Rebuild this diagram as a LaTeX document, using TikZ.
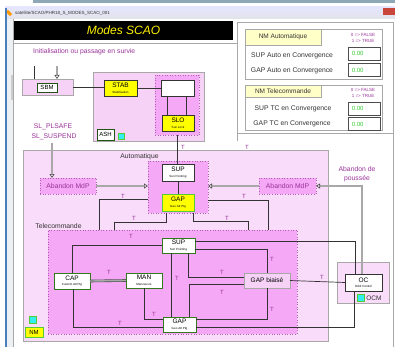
\documentclass[tikz,border=0pt]{standalone}
\usepackage{fontspec}
\setmainfont{Liberation Sans}
\usetikzlibrary{arrows.meta,calc}

\newcommand\setfs[1]{\fontsize{#1}{#1}\selectfont}
\newcommand\twolab[2]{{\setfs{6.5}#1}\\[-1pt]{\setfs{3}#2}}

\definecolor{pinkL}{HTML}{F9DCF9}
\definecolor{pinkS}{HTML}{F6D2F6}
\definecolor{pinkM}{HTML}{F5A8F5}
\definecolor{purp}{HTML}{993399}
\definecolor{dotc}{HTML}{B060B0}
\definecolor{dk}{HTML}{333333}
\definecolor{frm}{HTML}{A8A8A8}
\definecolor{yel}{HTML}{FFFF00}
\definecolor{grn}{HTML}{55CC33}
\definecolor{cyanb}{HTML}{33EEEE}
\definecolor{valg}{HTML}{33CC33}
\definecolor{hdr}{HTML}{FFFFC8}
\definecolor{winblue}{HTML}{4A7EC0}
\definecolor{side}{HTML}{EDF0F3}
\definecolor{topbar}{HTML}{8FA8B8}
\definecolor{closer}{HTML}{C9473A}
\definecolor{fatin}{HTML}{A8A8A8}
\definecolor{fatout}{HTML}{505050}

\tikzset{
  box/.style={draw=dk, line width=0.6pt, rectangle, inner sep=0pt, outer sep=0pt,
    fill=white, align=center, font=\setfs{6.5}},
  ybox/.style={box, fill=yel},
  gbox/.style={box, draw=grn!60!black},
  grp/.style={draw=frm, line width=0.5pt, fill=pinkL, rectangle, inner sep=0pt, outer sep=0pt},
  dotgrp/.style={draw=dotc, dotted, line width=0.6pt, fill=pinkM, rectangle,
    inner sep=0pt, outer sep=0pt},
  wire/.style={draw=dk, line width=0.7pt},
  fat/.style={draw=fatout, line width=0.6pt, double=fatin, double distance=1.4pt},
  tipo/.style={-{Triangle[open,length=4pt,width=5pt]}},
  tl/.style={text=purp, font=\setfs{6}, inner sep=0pt},
  plab/.style={text=purp, font=\setfs{6.8}, inner sep=0pt},
  dlab/.style={text=dk, font=\setfs{6.8}, inner sep=0pt},
  cyansq/.style={draw=grn, line width=0.8pt, fill=cyanb, inner sep=0pt, outer sep=0pt,
    minimum width=6pt, minimum height=6pt},
  valbox/.style={draw=black!70, line width=0.9pt, fill=white, inner sep=0pt,
    minimum width=32pt, minimum height=13pt},
  valtxt/.style={text=valg, font=\setfs{6}, inner sep=0pt, anchor=west},
  tfl/.style={text=purp, font=\setfs{4.5}, inner sep=0pt},
}

\begin{document}
\begin{tikzpicture}[x=1pt,y=-1pt]
\useasboundingbox (0,0) rectangle (395,347);

% window chrome
\fill[white] (0,0) rectangle (395,347);
\fill[topbar] (33,0) rectangle (395,3);
\shade[top color=white!90!blue, bottom color=blue!10!gray!20] (5,7) rectangle (395,19);
\fill[closer] (383,8) rectangle (395,15);
\fill[orange!80!yellow, rotate around={45:(9,13)}] (7.5,10) rectangle (10.5,16);
\node[anchor=west, font=\setfs{4.5}, text=dk, inner sep=0pt] (wtitle) at (15,13.5)
  {satellite/SCAO/PHR18\_S\_MODES\_SCAO\_001};
\fill[side] (7,19) rectangle (13,347);
\fill[black!20] (11,75) rectangle (13,100);
\draw[winblue, line width=1.5pt] (6,8) -- (6,347);
\draw[frm] (13,19) -- (13,347);

% panel frames
\draw[frm] (14,43) -- (237,43) -- (237,141);
\draw[frm] (237,22) rectangle (393,133);
\draw[frm] (393,133) -- (393,347);

% title
\node[fill=black, minimum width=219pt, minimum height=19pt, inner sep=0pt,
  text=yellow, font=\setfs{12}\itshape] (title) at (123.5,30.5) {Modes SCAO};

% right panel: flags
\node[grp, fill=white, minimum width=137pt, minimum height=50pt] (nma) at (313.5,54) {};
\node[grp, fill=hdr, minimum width=76pt, minimum height=16pt, font=\setfs{6.5}, text=dk]
  (nmah) at (283,37) {NM Automatique};
\node[tfl] (nmaf) at (363,35) {0 => FALSE};
\node[tfl] (nmat) at (363,41) {1 => TRUE};
\node[dlab] (supal) at (292,56) {SUP Auto en Convergence};
\node[dlab] (gapal) at (292,71) {GAP Auto en Convergence};
\node[valbox] (supav) at (364,53.5) {};
\node[valbox] (gapav) at (364,70) {};
\node[valtxt] at ([xshift=4pt]supav.west) {0.00};
\node[valtxt] at ([xshift=4pt]gapav.west) {0.00};

\node[grp, fill=white, minimum width=137pt, minimum height=45pt] (nmt) at (313.5,107.5) {};
\node[grp, fill=hdr, minimum width=76pt, minimum height=12pt, font=\setfs{6.5}, text=dk]
  (nmth) at (283,91) {NM Telecommande};
\node[tfl] (nmtf) at (363,90) {0 => FALSE};
\node[tfl] (nmtt) at (363,96) {1 => TRUE};
\node[dlab] (suptl) at (293,109) {SUP TC en Convergence};
\node[dlab] (gaptl) at (292,124) {GAP TC en Convergence};
\node[valbox] (suptv) at (364,108.5) {};
\node[valbox] (gaptv) at (364,124) {};
\node[valtxt] at ([xshift=4pt]suptv.west) {0.00};
\node[valtxt] at ([xshift=4pt]gaptv.west) {0.00};

% initialisation / SBM
\node[plab, anchor=west] (init) at (33,52) {Initialisation ou passage en survie};
\node[grp, fill=pinkS, minimum width=51pt, minimum height=16pt] (sbmg) at (47.5,87) {};
\node[box, draw=grn!40!black, minimum width=20pt, minimum height=9pt, font=\setfs{6}] (sbm) at (47,87.5) {SBM};
\coordinate (inA) at (34,66);
\coordinate (inB) at (57,66);
\draw[wire] (inA) -- (inA |- sbmg.north);
\draw[fat, tipo] (inB) -- (inB |- sbmg.north);

% STAB / SLO group
\node[grp, fill=pinkS, minimum width=111pt, minimum height=69pt] (stabg) at (148.5,106.5) {};
\node[ybox, minimum width=33pt, minimum height=16pt] (stab) at (120.5,88) {\twolab{STAB}{Stabilisation}};
\node[dotgrp, minimum width=44pt, minimum height=60pt] (slog) at (177,105) {};
\node[box, minimum width=33pt, minimum height=16pt] (wb) at (177.5,88) {};
\node[ybox, minimum width=32pt, minimum height=16pt] (slo) at (178,123) {\twolab{SLO}{Sun Lock}};
\node[box, draw=grn!40!black, minimum width=17pt, minimum height=11pt, font=\setfs{6}] (ash) at (105.5,134.5) {ASH};
\node[cyansq] (ashsq) at (121,136) {};
\draw[wire] (sbmg.east) -- (sbmg.east -| stab.west);
\draw[wire] (stab.east) -- (stab.east -| wb.west);
\draw[wire] ([xshift=-10.5pt]wb.south) -- ([xshift=-10.5pt]wb.south |- slo.north);
\draw[wire] ([xshift=8.5pt]wb.south) -- ([xshift=8.5pt]wb.south |- slo.north);

% SL labels
\node[plab] (slp) at (53,127) {SL\_PLSAFE};
\node[plab] (sls) at (54,137) {SL\_SUSPEND};
\coordinate (slarr) at (52,143);

% Automatique
\node[grp, minimum width=305pt, minimum height=191pt] (auto) at (175.5,245.5) {};
\node[dlab] (autol) at (139.5,157) {Automatique};
\node[dotgrp, minimum width=56pt, minimum height=16pt, text=purp, font=\setfs{6.8}] (abl) at (68,186) {Abandon MdP};
\node[dotgrp, minimum width=57pt, minimum height=16pt, text=purp, font=\setfs{6.8}] (abr) at (287.5,186) {Abandon MdP};
\node[dotgrp, minimum width=60pt, minimum height=52pt] (autoin) at (178,187) {};
\node[box, minimum width=32pt, minimum height=17pt] (supa) at (178,172.5) {\twolab{SUP}{Sun Pointing}};
\node[ybox, draw=grn, line width=0.9pt, minimum width=32pt, minimum height=17pt] (gapa) at (178,202.5) {\twolab{GAP}{Geo Att Ptg}};
\node[plab] (abdp1) at (357,169) {Abandon de};
\node[plab] (abdp2) at (357,179) {poussée};

% Telecommande
\node[dlab] (telel) at (58.5,226) {Telecommande};
\node[dotgrp, minimum width=249pt, minimum height=104pt] (tele) at (172.5,282) {};
\node[gbox, minimum width=33pt, minimum height=15pt] (supt) at (178.5,245.5) {\twolab{SUP}{Sun Pointing}};
\node[gbox, minimum width=36pt, minimum height=16pt] (cap) at (72,281) {\twolab{CAP}{Custom Att Ptg}};
\node[gbox, minimum width=36pt, minimum height=15pt] (man) at (144,280.5) {\twolab{MAN}{Manoeuvre}};
\node[gbox, minimum width=33pt, minimum height=15pt] (gapt) at (179.5,324.5) {\twolab{GAP}{Geo Att Ptg}};
\node[box, draw=frm, fill=pinkS, minimum width=46pt, minimum height=15pt, font=\setfs{6.5}] (gapb) at (267,280.5) {GAP biaisé};

% OC
\node[grp, minimum width=52pt, minimum height=41pt] (ocg) at (363,282.5) {};
\node[box, minimum width=37pt, minimum height=17pt] (oc) at (363.5,282.5) {\twolab{OC}{Orbit Control}};
\node[cyansq, minimum width=7pt, minimum height=7pt] (ocsq) at (360.5,297.5) {};
\node[dlab, font=\setfs{6.5}] (ocm) at (374,298.5) {OCM};

% NM
\node[cyansq, minimum width=7pt, minimum height=7pt] (nmsq) at (32.5,319.5) {};
\node[ybox, draw=grn, line width=0.9pt, minimum width=18pt, minimum height=10pt, font=\setfs{6}] (nm) at (34,332) {NM};

% connectors: thick arrows
\draw[fat, tipo] (slarr) -- (slarr |- abl.north);
\draw[fat, tipo] (abl.east) -- (abl.east -| autoin.west);
\draw[fat, tipo] (abr.west) -- (abr.west -| autoin.east);
\draw[fat, tipo] ([xshift=-1.5pt]oc.north) |- (abr.east);

% connectors: automatique
\draw[wire] (slog.south) -- (slog.south |- supa.north);
\draw[wire] (supa.south) -- (gapa.north);
\draw[wire] (autoin.west |- 0,199) -| (99,0 |- tele.north);
\draw[wire] (166,0 |- autoin.south) |- (114,222) -- (114,0 |- tele.north);
\draw[wire] (autoin.east |- 0,200) -| (268,0 |- tele.north);
\draw[wire] (193,0 |- autoin.south) |- (248,221) -- (248,0 |- tele.north);

% connectors: telecommande
\draw[wire] (supt.west) -| (cap.north);
\draw[fat] (cap.east) -- (man.west);
\draw[wire] ([xshift=1pt]cap.south) |- ([yshift=-2.5pt]gapt.west);
\draw[wire] (man.south) |- ([yshift=5.5pt]gapt.west);
\draw[wire] ([xshift=-7.5pt]supt.south) -- ([xshift=-7.5pt]supt.south |- gapt.north);
\draw[wire] ([xshift=9.5pt]supt.south) |- ([yshift=3.5pt]gapb.west);
\draw[wire] ([xshift=9.5pt]gapt.north) |- ([yshift=-3.5pt]gapb.west);
\draw[wire] ([yshift=4.5pt]supt.east) -| ([xshift=-8.5pt]oc.north);
\draw[wire] ([yshift=-3.5pt]supt.east) -| (gapb.north);
\draw[wire] ([yshift=5.5pt]gapt.east) -| (gapb.south);
\draw[wire] ([yshift=-2.5pt]gapt.east) -| ([xshift=-9.5pt]oc.south);
\draw[wire] (gapb.east) -- (oc.west);

% transition labels
\foreach \p in {(183,147),(247,147),(123,196),(134,218),(244,196),(227,218),
  (131,236),(109,272),(120,323),(154,314),(177,278),(222,272),(222,292),
  (272,259),(272,309),(322,277)}
  \node[tl] at \p {T};
\end{tikzpicture}
\end{document}
